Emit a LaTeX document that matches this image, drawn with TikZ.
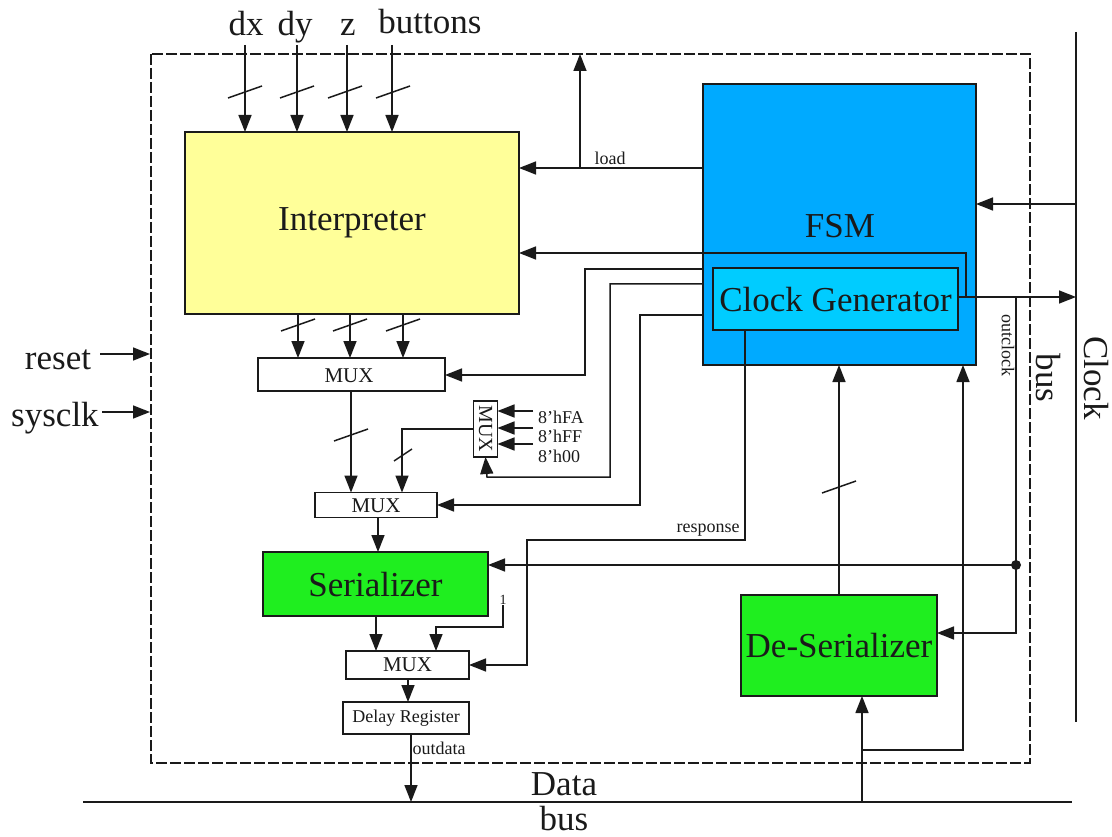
\documentclass[tikz,border=0pt]{standalone}
\usepackage{fontspec}
\setmainfont{Liberation Serif}
\usetikzlibrary{arrows.meta}
\definecolor{inkc}{HTML}{1A1A1A}
\definecolor{fsmblue}{HTML}{00AAFF}
\definecolor{clockblue}{HTML}{00CCFF}
\definecolor{interpyellow}{HTML}{FFFF99}
\definecolor{sergreen}{HTML}{1FEE1F}
\newcommand{\fsz}[1]{\fontsize{#1}{#1}\selectfont}
\newcommand{\busmark}[2]{\draw[wire] ({#1-17},{#2+6}) -- ({#1+17},{#2-6});}
\tikzset{
  wire/.style={draw=inkc,line width=1.5pt},
  arr/.style={wire,-{Triangle[length=17pt,width=13pt]}},
  blockbox/.style={draw=inkc,line width=1.5pt,inner sep=0pt,outer sep=0pt,anchor=center},
  big/.style={inkc,font=\fsz{35},inner sep=0pt},
  mid/.style={inkc,font=\fsz{21},inner sep=0pt},
  tiny/.style={inkc,font=\fsz{18},inner sep=0pt},
}
\begin{document}
\begin{tikzpicture}[x=1pt,y=-1pt]
\useasboundingbox (0,0) rectangle (1112,837);
\draw[draw=inkc,line width=1.2pt,dash pattern=on 11pt off 3pt] (151,54) rectangle (1030,763);
% blocks
\node[blockbox,fill=interpyellow,minimum width=334pt,minimum height=182pt] (interp) at (352,223) {};
\node[big] (interpt) at (352,223) {Interpreter};
\node[blockbox,fill=fsmblue,minimum width=273pt,minimum height=281pt] (fsm) at (839.5,224.5) {};
\node[big] (fsmt) at (840,226) {FSM};
\node[blockbox,fill=clockblue,minimum width=245pt,minimum height=62pt] (clk) at (835.5,299) {};
\node[big] (clkt) at (835.5,300) {Clock Generator};
\node[blockbox,fill=white,minimum width=187pt,minimum height=33pt] (mux1) at (351.5,374.5) {};
\node[mid] (mux1t) at (349,376) {MUX};
\node[blockbox,fill=white,minimum width=24pt,minimum height=56pt] (mux0) at (485.5,429) {};
\node[tiny,font=\fsz{20},rotate=-90] (mux0t) at (485.5,429) {MUX};
\node[blockbox,fill=white,minimum width=122pt,minimum height=25pt] (mux2) at (376,505) {};
\node[mid] (mux2t) at (376,506) {MUX};
\node[blockbox,fill=sergreen,minimum width=225pt,minimum height=64pt] (ser) at (375.5,584) {};
\node[big] (sert) at (375.5,585) {Serializer};
\node[blockbox,fill=white,minimum width=123pt,minimum height=28pt] (mux3) at (407.5,665) {};
\node[mid] (mux3t) at (407.5,665) {MUX};
\node[blockbox,fill=white,minimum width=126pt,minimum height=32pt] (delay) at (406,718) {};
\node[tiny] (delayt) at (406,718) {Delay Register};
\node[blockbox,fill=sergreen,minimum width=196pt,minimum height=101pt] (deser) at (839,645.5) {};
\node[big] (desert) at (839,646) {De-Serializer};
% buses
\coordinate (clkbusTop) at (1076,32);
\coordinate (clkbusBot) at (1076,722);
\coordinate (dataL) at (83,802);
\coordinate (dataR) at (1072,802);
\draw[wire] (clkbusTop) -- (clkbusBot);
\draw[wire] (dataL) -- (dataR);
% inputs
\coordinate (idx) at (245,45); \coordinate (idy) at (297,45);
\coordinate (iz) at (347,45); \coordinate (ibt) at (392,45);
\draw[arr] (idx) -- (idx |- interp.north);
\draw[arr] (idy) -- (idy |- interp.north);
\draw[arr] (iz) -- (iz |- interp.north);
\draw[arr] (ibt) -- (ibt |- interp.north);
\busmark{245}{92}\busmark{297}{92}\busmark{345}{92}\busmark{393}{92}
\node[big,anchor=base] (ldx) at (246,36) {dx};
\node[big,anchor=base] (ldy) at (295,36) {dy};
\node[big,anchor=base] (lz) at (348,36) {z};
\node[big,anchor=base] (lbt) at (430,34) {buttons};
\coordinate (ireset) at (100,354); \coordinate (isys) at (102,412);
\coordinate (dashW) at (150,300);
\draw[arr] (ireset) -- (ireset -| dashW);
\draw[arr] (isys) -- (isys -| dashW);
\node[big] (lreset) at (58,360) {reset};
\node[big] (lsys) at (55,418) {sysclk};
% FSM to interpreter
\coordinate (loadj) at (580,168);
\coordinate (loadtop) at (580,54);
\draw[arr] (fsm.west |- loadj) -- (interp.east |- loadj);
\draw[arr] (loadj) -- (loadtop);
\node[tiny] (lload) at (610,158) {load};
\coordinate (ctl) at (966,297);
\draw[arr] (ctl) -- (966,253) -- (interp.east |- 0,253);
% FSM to muxes
\draw[arr] (fsm.west |- 0,269) -- (585,269) -- (585,375) -- (mux1.east |- 0,375);
\draw[arr] (fsm.west |- 0,284) -- (610,284) -- (610,477) -- (487,477) -- (mux0.south);
\draw[arr] (fsm.west |- 0,315) -- (640,315) -- (640,505) -- (mux2.east);
% clock bus
\draw[arr] (clkbusTop |- 0,204) -- (fsm.east |- 0,204);
\draw[arr] (clk.east |- ctl) -- (clkbusTop |- ctl);
% outclock
\coordinate (oc) at (1016,297);
\coordinate (ocdot) at (1016,565);
\draw[arr] (oc) -- (1016,633) -- (deser.east |- 0,633);
\draw[arr] (ocdot) -- (ser.east |- ocdot);
\fill[inkc] (ocdot) circle (5pt);
\node[tiny,rotate=-90] (locl) at (1008,345) {outclock};
% response
\draw[arr] (clk.south -| 745,0) -- (745,540) -- (527,540) -- (527,665) -- (mux3.east);
\node[tiny] (lresp) at (708,530) {response};
% internal data
\foreach \xx in {298,350,403} {\draw[arr] (interp.south -| \xx,0) -- (mux1.north -| \xx,0);}
\busmark{298}{325}\busmark{350}{325}\busmark{403}{325}
\draw[arr] (mux1.south -| 351,0) -- (mux2.north -| 351,0);
\busmark{351}{435}
\draw[arr] (mux0.west) -- (402,429) -- (mux2.north -| 402,0);
\draw[wire] (394,461) -- (412,449);
\draw[arr] (mux2.south -| 378,0) -- (ser.north -| 378,0);
\draw[arr] (ser.south -| 376,0) -- (mux3.north -| 376,0);
\node[tiny,font=\fsz{14}] (lone) at (503,600) {1};
\draw[arr] (lone.south) -- (503,627) -- (436,627) -- (mux3.north -| 436,0);
\draw[arr] (mux3.south -| 408,0) -- (delay.north -| 408,0);
\draw[arr] (delay.south -| 411,0) -- (dataL -| 411,0);
\node[tiny] (lout) at (439,748) {outdata};
% small mux inputs
\foreach \yy in {411,428,444} {\draw[arr] (533,\yy) -- (mux0.east |- 0,\yy);}
\node[tiny,anchor=west] (la) at (538,417) {8'hFA};
\node[tiny,anchor=west] (lb) at (538,436) {8'hFF};
\node[tiny,anchor=west] (lc) at (538,456) {8'h00};
% deserializer / FSM
\draw[arr] (deser.north -| 839,0) -- (fsm.south -| 839,0);
\busmark{839}{487}
\coordinate (dj) at (862,750);
\draw[arr] (dataL -| 862,0) -- (deser.south -| 862,0);
\draw[arr] (dj) -- (963,750) -- (fsm.south -| 963,0);
% bus labels
\node[big] (ldata) at (564,784) {Data};
\node[big] (lbus) at (564,819) {bus};
\node[big,rotate=-90] (lclock) at (1096,378) {Clock};
\node[big,rotate=-90] (lbus2) at (1048,378) {bus};
\end{tikzpicture}
\end{document}
